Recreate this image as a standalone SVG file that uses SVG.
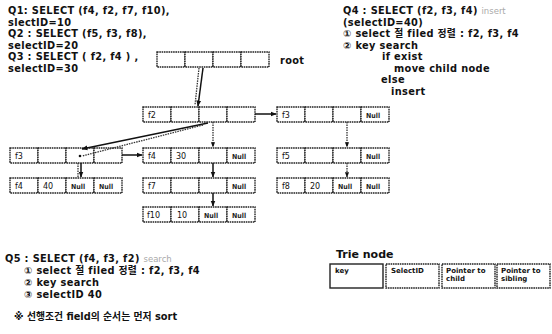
<svg xmlns="http://www.w3.org/2000/svg" width="552" height="334" viewBox="0 0 552 334">
<defs>
<style>
.t{font-family:"DejaVu Sans","Noto Sans CJK KR",sans-serif;font-weight:bold;font-size:9.8px;letter-spacing:0.35px;fill:#111}
.k{font-family:"DejaVu Sans","Noto Sans CJK KR",sans-serif;font-weight:bold;font-size:9.8px;fill:#111}
.s{font-family:"DejaVu Sans",sans-serif;font-weight:normal;font-size:8.5px;letter-spacing:0;fill:#aaa}
.c{fill:#fff;stroke:#222;stroke-width:1.4;stroke-dasharray:1.6 0.7}
.ct{font-family:"DejaVu Sans",sans-serif;font-size:8px;fill:#111}
.n{font-family:"DejaVu Sans Condensed","DejaVu Sans",sans-serif;font-size:7px;font-weight:bold;fill:#222}
.tn{font-family:"DejaVu Sans",sans-serif;font-size:7px;font-weight:bold;fill:#111}
.a{stroke:#111;stroke-width:1.5;fill:none;marker-end:url(#ah)}
.d{stroke:#333;stroke-width:1.3;fill:none;stroke-dasharray:1.5 1}
.da{stroke:#333;stroke-width:1.3;fill:none;stroke-dasharray:1.5 1;marker-end:url(#ah)}
</style>
<marker id="ah" viewBox="0 0 10 10" refX="9" refY="5" markerWidth="4" markerHeight="4" orient="auto"><path d="M0,1 L10,5 L0,9 z" fill="#111"/></marker>
</defs>
<rect width="552" height="334" fill="#fff"/>

<g id="text-left">
<text class="t" x="8" y="14">Q1: SELECT (f4, f2, f7, f10),</text>
<text class="t" x="8" y="25.5">slectID=10</text>
<text class="t" x="8" y="37">Q2 : SELECT (f5, f3, f8),</text>
<text class="t" x="8" y="48.5">selectID=20</text>
<text class="t" x="8" y="60">Q3 : SELECT ( f2, f4 ) ,</text>
<text class="t" x="8" y="71.5">selectID=30</text>
</g>

<g id="text-right">
<text class="t" x="343" y="14">Q4 : SELECT (f2, f3, f4) <tspan class="s">insert</tspan></text>
<text class="t" x="343" y="25.5">(selectID=40)</text>
<text class="t" x="343" y="37">① select 절 filed 정렬 : f2, f3, f4</text>
<text class="t" x="343" y="48.5">② key search</text>
<text class="t" x="382" y="60">if exist</text>
<text class="t" x="394" y="71.5">move child node</text>
<text class="t" x="381" y="83">else</text>
<text class="t" x="391" y="94.5">insert</text>
</g>

<g id="text-bottom">
<text class="t" x="5" y="262">Q5 : SELECT (f4, f3, f2) <tspan class="s">search</tspan></text>
<text class="t" x="24" y="274">① select 절 filed 정렬 : f2, f3, f4</text>
<text class="t" x="24" y="286">② key search</text>
<text class="t" x="24" y="298">③ selectID 40</text>
<text class="k" x="14" y="320">※ 선행조건 field의 순서는 먼저 sort</text>
</g>

<g id="root">
<rect class="c" x="157" y="52" width="28" height="15"/>
<rect class="c" x="185" y="52" width="28" height="15"/>
<rect class="c" x="213" y="52" width="28" height="15"/>
<rect class="c" x="241" y="52" width="28" height="15"/>
<text class="t" x="280" y="64">root</text>
</g>

<g id="node-f2">
<rect class="c" x="143" y="107" width="28" height="15"/>
<rect class="c" x="171" y="107" width="28" height="15"/>
<rect class="c" x="199" y="107" width="28" height="15"/>
<rect class="c" x="227" y="107" width="28" height="15"/>
<text class="ct" x="148" y="117.5">f2</text>
</g>

<g id="node-f3-right">
<rect class="c" x="277" y="107" width="28" height="15"/>
<rect class="c" x="305" y="107" width="28" height="15"/>
<rect class="c" x="333" y="107" width="28" height="15"/>
<rect class="c" x="361" y="107" width="28" height="15"/>
<text class="ct" x="282" y="117.5">f3</text>
<text class="n" x="366" y="117.5">Null</text>
</g>

<g id="node-f3-left">
<rect class="c" x="10" y="148" width="28" height="15"/>
<rect class="c" x="38" y="148" width="28" height="15"/>
<rect class="c" x="66" y="148" width="28" height="15"/>
<rect class="c" x="94" y="148" width="28" height="15"/>
<text class="ct" x="15" y="158.5">f3</text>
<circle cx="80" cy="156" r="1.3" fill="#111"/>
</g>

<g id="node-f4-30">
<rect class="c" x="143" y="148" width="28" height="15"/>
<rect class="c" x="171" y="148" width="28" height="15"/>
<rect class="c" x="199" y="148" width="28" height="15"/>
<rect class="c" x="227" y="148" width="28" height="15"/>
<text class="ct" x="148" y="158.5">f4</text>
<text class="ct" x="176" y="158.5">30</text>
<text class="n" x="232" y="158.5">Null</text>
</g>

<g id="node-f5">
<rect class="c" x="277" y="148" width="28" height="15"/>
<rect class="c" x="305" y="148" width="28" height="15"/>
<rect class="c" x="333" y="148" width="28" height="15"/>
<rect class="c" x="361" y="148" width="28" height="15"/>
<text class="ct" x="282" y="158.5">f5</text>
<text class="n" x="366" y="158.5">Null</text>
</g>

<g id="node-f4-40">
<rect class="c" x="10" y="178" width="28" height="15"/>
<rect class="c" x="38" y="178" width="28" height="15"/>
<rect class="c" x="66" y="178" width="28" height="15"/>
<rect class="c" x="94" y="178" width="28" height="15"/>
<text class="ct" x="15" y="188.5">f4</text>
<text class="ct" x="43" y="188.5">40</text>
<text class="n" x="71" y="188.5">Null</text>
<text class="n" x="99" y="188.5">Null</text>
</g>

<g id="node-f7">
<rect class="c" x="143" y="178" width="28" height="15"/>
<rect class="c" x="171" y="178" width="28" height="15"/>
<rect class="c" x="199" y="178" width="28" height="15"/>
<rect class="c" x="227" y="178" width="28" height="15"/>
<text class="ct" x="148" y="188.5">f7</text>
<text class="n" x="232" y="188.5">Null</text>
</g>

<g id="node-f8">
<rect class="c" x="277" y="178" width="28" height="15"/>
<rect class="c" x="305" y="178" width="28" height="15"/>
<rect class="c" x="333" y="178" width="28" height="15"/>
<rect class="c" x="361" y="178" width="28" height="15"/>
<text class="ct" x="282" y="188.5">f8</text>
<text class="ct" x="310" y="188.5">20</text>
<text class="n" x="338" y="188.5">Null</text>
<text class="n" x="366" y="188.5">Null</text>
</g>

<g id="node-f10">
<rect class="c" x="143" y="207" width="28" height="15"/>
<rect class="c" x="171" y="207" width="28" height="15"/>
<rect class="c" x="199" y="207" width="28" height="15"/>
<rect class="c" x="227" y="207" width="28" height="15"/>
<text class="ct" x="147" y="217.5">f10</text>
<text class="ct" x="177" y="217.5">10</text>
<text class="n" x="204" y="217.5">Null</text>
<text class="n" x="232" y="217.5">Null</text>
</g>

<g id="trie-node-legend">
<text class="t" x="336" y="258" style="font-size:11px;letter-spacing:0">Trie node</text>
<rect class="c" x="330" y="264" width="53" height="24" style="stroke-dasharray:none"/>
<rect class="c" x="386" y="264" width="53" height="24"/>
<rect class="c" x="442" y="264" width="53" height="24"/>
<rect class="c" x="497" y="264" width="53" height="24"/>
<text class="tn" x="335" y="273">key</text>
<text class="tn" x="391" y="273">SelectID</text>
<text class="tn" x="446" y="273">Pointer to</text>
<text class="tn" x="446" y="281">child</text>
<text class="tn" x="501" y="273">Pointer to</text>
<text class="tn" x="501" y="281">sibling</text>
</g>

<g id="connectors">
<line class="d" x1="199" y1="68" x2="195" y2="105"/>
<line class="a" x1="203" y1="68" x2="198" y2="106"/>
<line class="a" x1="255" y1="114" x2="276" y2="114"/>
<line class="da" x1="213" y1="122" x2="213" y2="147"/>
<line class="a" x1="208" y1="123" x2="82" y2="149"/>
<line class="d" x1="203" y1="125" x2="82" y2="156"/>
<line class="a" x1="122" y1="155" x2="142" y2="155"/>
<line class="d" x1="78" y1="163" x2="78" y2="177"/>
<line class="a" x1="81" y1="163" x2="81" y2="177"/>
<line class="a" x1="213" y1="163" x2="213" y2="177"/>
<line class="a" x1="213" y1="193" x2="213" y2="206"/>
<line class="da" x1="347" y1="122" x2="347" y2="147"/>
<line class="da" x1="347" y1="163" x2="347" y2="177"/>
</g>
</svg>
